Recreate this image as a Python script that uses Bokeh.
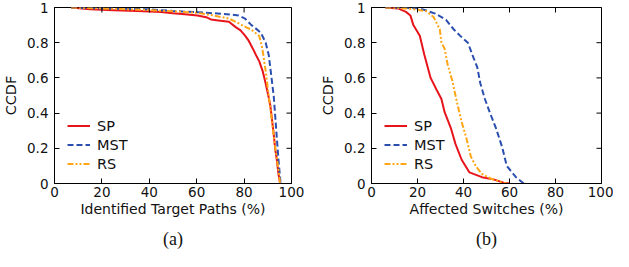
from bokeh.plotting import figure
from bokeh.layouts import row
from bokeh.models import FixedTicker, Legend, LegendItem, Range1d, LinearAxis
from bokeh.embed import file_html
from bokeh.resources import INLINE

# ---------------- data ----------------
# (a) Identified Target Paths (%)
a_sp_x = [7, 15, 25, 35, 45, 50, 55, 60.3, 64, 66, 68.3, 73.6, 76.3, 78.5, 80.4, 82, 83.7, 85, 86.4, 87.8, 89.1, 90.2, 91.1, 91.8, 92.5, 93.1, 93.8, 94.5, 95.2]
a_sp_y = [1.0, 0.99, 0.985, 0.98, 0.975, 0.968, 0.962, 0.955, 0.945, 0.932, 0.928, 0.919, 0.89, 0.87, 0.84, 0.81, 0.766, 0.73, 0.694, 0.64, 0.568, 0.5, 0.44, 0.36, 0.28, 0.2, 0.135, 0.054, 0.0]

a_mst_x = [7, 20, 40, 50, 60.2, 70, 77.7, 80.4, 83.1, 85, 87.1, 89.1, 90.4, 91.4, 92.5, 93.5, 94.5, 95.4]
a_mst_y = [1.0, 0.995, 0.99, 0.98, 0.973, 0.965, 0.955, 0.937, 0.9, 0.88, 0.856, 0.8, 0.73, 0.62, 0.496, 0.315, 0.135, 0.0]

a_rs_x = [7, 20, 40, 50, 60, 67, 73.6, 77.7, 80.5, 83.1, 86.4, 87.7, 89.1, 90.4, 91.8, 93.1, 94.5, 95.2]
a_rs_y = [1.0, 0.995, 0.985, 0.978, 0.97, 0.955, 0.937, 0.91, 0.89, 0.874, 0.838, 0.766, 0.64, 0.496, 0.35, 0.207, 0.08, 0.0]

# (b) Affected Switches (%)
b_sp_x = [6.1, 11.5, 15, 16.9, 18.2, 21, 23, 25.7, 28.4, 30.4, 31.8, 34.5, 36.5, 39.2, 42.6, 48, 53.4, 57.4, 60.2]
b_sp_y = [1.0, 0.995, 0.975, 0.955, 0.9, 0.84, 0.73, 0.6, 0.53, 0.48, 0.405, 0.315, 0.225, 0.135, 0.063, 0.036, 0.022, 0.005, 0.0]

b_mst_x = [6, 15, 21, 27.7, 32.4, 35.8, 38.5, 41.9, 43.9, 46, 47.3, 49.3, 51.4, 54.1, 56.8, 58.8, 62.8, 66.2]
b_mst_y = [1.0, 0.998, 0.995, 0.965, 0.93, 0.875, 0.84, 0.8, 0.73, 0.66, 0.57, 0.48, 0.405, 0.315, 0.207, 0.1, 0.036, 0.0]

b_rs_x = [6, 15, 23.7, 27, 29.7, 30.4, 31.8, 33.1, 35.1, 37.2, 39.2, 41.2, 43.2, 45.3, 48, 52, 56.1, 58.8]
b_rs_y = [1.0, 0.995, 0.98, 0.946, 0.875, 0.8, 0.766, 0.676, 0.585, 0.46, 0.35, 0.26, 0.153, 0.1, 0.054, 0.027, 0.009, 0.0]

x_ticks = [0, 20, 40, 60, 80, 100]
y_ticks = [0, 0.2, 0.4, 0.6, 0.8, 1]
y_tick_labels = ["0", "0.2", "0.4", "0.6", "0.8", "1"]
series_names = ["SP", "MST", "RS"]
series_colors = ["#e8141c", "#2a4fae", "#ffa516"]
series_dashes = ["solid", "6 3", "6 2 2 2 2 2"]

FONT = "DejaVu Sans"
X_MIN, X_MAX = 0, 100
Y_MIN, Y_MAX = 0, 1


def make_panel(xs, ys, xlabel, caption, width, left, right):
    p = figure(width=width, height=251, x_range=Range1d(X_MIN, X_MAX), y_range=Range1d(Y_MIN, Y_MAX),
               output_backend="svg", toolbar_location=None,
               min_border_left=left, min_border_right=right, min_border_top=7,
               min_border_bottom=10)
    p.grid.visible = False
    p.outline_line_color = "black"
    p.outline_line_width = 1
    p.background_fill_color = "white"
    p.border_fill_color = "white"

    renderers = []
    for x, y, c, d in zip(xs, ys, series_colors, series_dashes):
        r = p.line(x, y, line_color=c, line_width=2, line_dash=d)
        renderers.append(r)

    # mirror ticks on top and right edges (inward)
    p.ray(x=x_ticks, y=[Y_MAX] * len(x_ticks), length=5, length_units="screen",
          angle=-90, angle_units="deg", line_color="black", line_width=1)
    p.ray(x=[X_MAX] * len(y_ticks), y=y_ticks, length=5, length_units="screen",
          angle=180, angle_units="deg", line_color="black", line_width=1)

    overrides = {t: l for t, l in zip(y_ticks, y_tick_labels)}
    for ax in p.xaxis:
        ax.ticker = FixedTicker(ticks=x_ticks)
    for ax in p.yaxis:
        ax.ticker = FixedTicker(ticks=y_ticks)
        ax.major_label_overrides = overrides
    for ax in list(p.xaxis) + list(p.yaxis):
        ax.major_tick_in = 5
        ax.major_tick_out = 0
        ax.minor_tick_line_color = None
        ax.axis_line_color = "black"
        ax.major_tick_line_color = "black"
        ax.major_label_text_font = FONT
        ax.major_label_text_font_size = "13.5px"
        ax.major_label_text_color = "#111111"
        ax.axis_label_text_font = FONT
        ax.axis_label_text_font_style = "normal"
        ax.axis_label_text_color = "#111111"
    p.xaxis.axis_label = xlabel
    p.yaxis.axis_label = "CCDF"
    p.xaxis.axis_label_text_font_size = "14px"
    p.yaxis.axis_label_text_font_size = "14.5px"
    p.xaxis.major_label_standoff = 3
    p.xaxis.axis_label_standoff = 1
    p.yaxis.major_label_standoff = 6
    p.yaxis.axis_label_standoff = 5

    # caption "(a)"/"(b)" as the label of a tick-less axis below
    cap = LinearAxis(ticker=FixedTicker(ticks=[]), axis_line_color=None,
                     major_tick_line_color=None, minor_tick_line_color=None,
                     axis_label=caption, axis_label_text_font="Liberation Serif",
                     axis_label_text_font_size="18px", axis_label_text_font_style="normal",
                     axis_label_text_color="#111111", axis_label_standoff=9,
                     major_label_text_font_size="13px")
    p.add_layout(cap, "below")

    items = [LegendItem(label=n, renderers=[r]) for n, r in zip(series_names, renderers)]
    leg = Legend(items=items, location=(13, 10), border_line_color=None,
                 background_fill_alpha=0, label_text_font=FONT, label_text_font_size="14.5px",
                 label_text_color="#111111", glyph_width=23, glyph_height=19, label_height=19,
                 spacing=0, padding=0, margin=0, label_standoff=7)
    p.add_layout(leg, "center")
    return p


pa = make_panel([a_sp_x, a_mst_x, a_rs_x], [a_sp_y, a_mst_y, a_rs_y],
                "Identified Target Paths (%)", "(a)", 317, 43, 26)
pb = make_panel([b_sp_x, b_mst_x, b_rs_x], [b_sp_y, b_mst_y, b_rs_y],
                "Affected Switches (%)", "(b)", 296, 43, 12)

layout = row(pa, pb, spacing=0)
open("out.html", "w").write(file_html(layout, INLINE))
